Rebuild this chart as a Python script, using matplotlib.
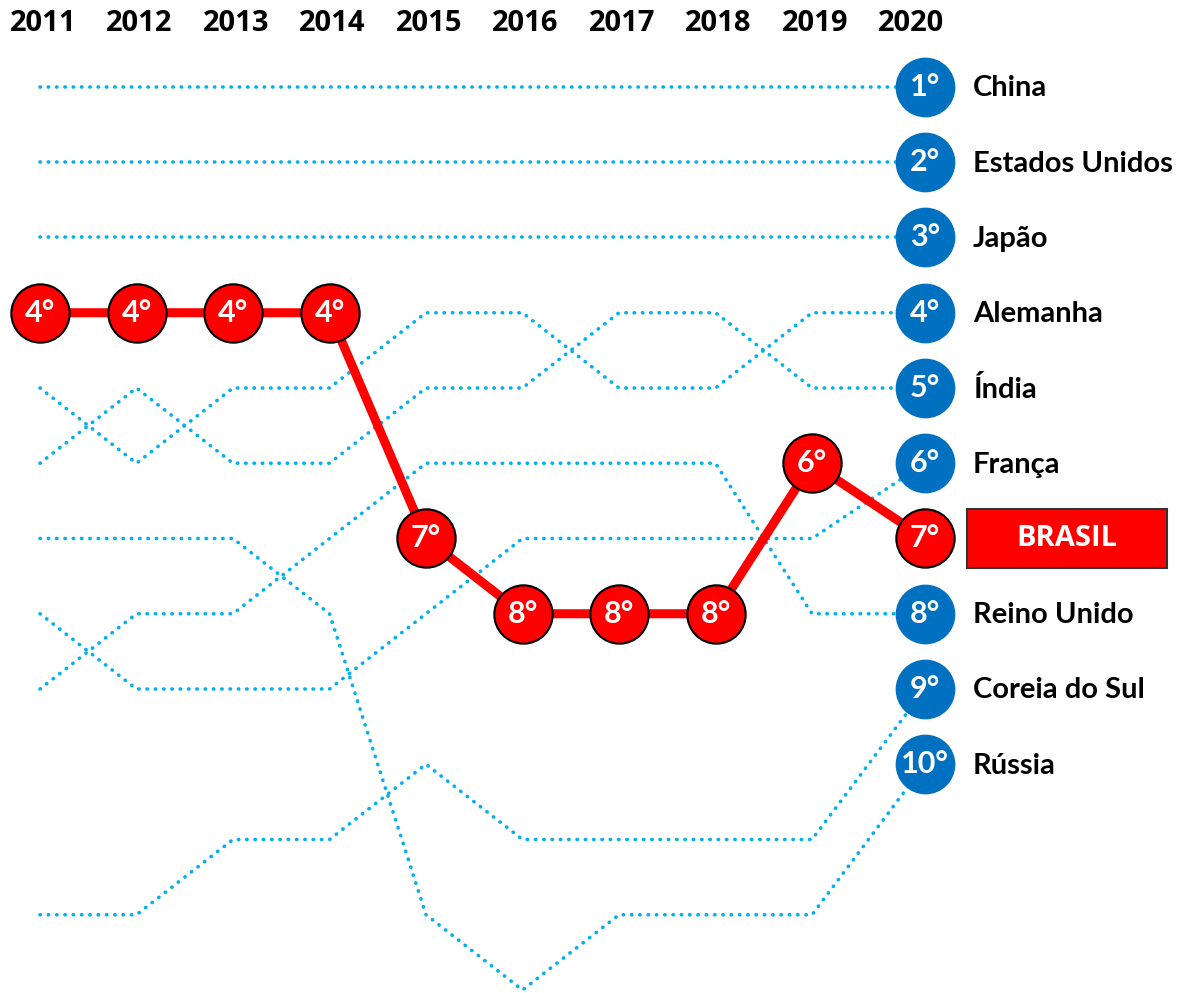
import matplotlib
matplotlib.use('Agg')
import matplotlib.pyplot as plt
import numpy as np
from matplotlib.patches import Rectangle

# ---- data ----
years = [2011, 2012, 2013, 2014, 2015, 2016, 2017, 2018, 2019, 2020]

rank_china = [1, 1, 1, 1, 1, 1, 1, 1, 1, 1]
rank_eua = [2, 2, 2, 2, 2, 2, 2, 2, 2, 2]
rank_japao = [3, 3, 3, 3, 3, 3, 3, 3, 3, 3]
rank_alemanha = [5, 6, 5, 5, 4, 4, 5, 5, 4, 4]
rank_india = [6, 5, 6, 6, 5, 5, 4, 4, 5, 5]
rank_franca = [8, 9, 9, 9, 8, 7, 7, 7, 7, 6]
rank_brasil = [4, 4, 4, 4, 7, 8, 8, 8, 6, 7]
rank_reino_unido = [9, 8, 8, 7, 6, 6, 6, 6, 8, 8]
rank_coreia = [12, 12, 11, 11, 10, 11, 11, 11, 11, 9]
rank_russia = [7, 7, 7, 8, 12, 13, 12, 12, 12, 10]

other_names = ["China", "Estados Unidos", "Japão", "Alemanha", "Índia",
               "França", "Reino Unido", "Coreia do Sul", "Rússia"]
other_ranks = [rank_china, rank_eua, rank_japao, rank_alemanha, rank_india,
               rank_franca, rank_reino_unido, rank_coreia, rank_russia]
highlight_name = "BRASIL"

# ---- style ----
DOT_BLUE = '#00B0F0'
CIRCLE_BLUE = '#0070C0'
RED = '#FF0000'
LABEL_FONT = 'Lato'
YEAR_FONT = 'Open Sans'

fig = plt.figure(figsize=(11.88, 9.93), dpi=100)
ax = fig.add_axes([0, 0, 1, 1])
ax.set_xlim(-0.4145, 11.896)
ax.set_ylim(13.04, -0.156)
ax.axis('off')

n = len(years)
x = np.arange(n, dtype=float)
x[-1] += 0.17  # final column sits slightly further right

# year labels
for i, yr in enumerate(years):
    ax.text(i + 0.03, 0.15, str(yr), ha='center', va='center', fontsize=21,
            fontweight='bold', family=YEAR_FONT, color='black')

# dotted lines for other countries
for ranks in other_ranks:
    ax.plot(x, ranks, color=DOT_BLUE, lw=2.6, linestyle=(0, (0.1, 2.2)),
            dash_capstyle='round', zorder=1)

# final blue circles + labels
circle_s = 42 ** 2
for name, ranks in zip(other_names, other_ranks):
    r = ranks[-1]
    ax.scatter([x[-1]], [r], s=circle_s, color=CIRCLE_BLUE, zorder=4,
               edgecolors=CIRCLE_BLUE, linewidths=1.0)
    ax.text(x[-1], r, f"{r}°", ha='center', va='center', fontsize=22,
            fontweight='bold', family=LABEL_FONT, color='white', zorder=5)
    ax.text(9.668, r + 0.02, name, ha='left', va='center', fontsize=21,
            fontweight='bold', family=LABEL_FONT, color='black', zorder=5)

# Brasil highlighted
ax.plot(x, rank_brasil, color=RED, lw=6.5, solid_capstyle='butt', zorder=2)
ax.scatter(x, rank_brasil, s=circle_s, color=RED, edgecolors='black',
           linewidths=1.5, zorder=3)
for xi, r in zip(x, rank_brasil):
    ax.text(xi, r, f"{r}°", ha='center', va='center', fontsize=22,
            fontweight='bold', family=LABEL_FONT, color='white', zorder=4)

rb = rank_brasil[-1]
box = Rectangle((9.606, rb - 0.39), 2.073, 0.78, facecolor=RED,
                edgecolor='#333333', linewidth=1.5, zorder=4)
ax.add_patch(box)
ax.text(9.606 + 2.073 / 2, rb, highlight_name, ha='center', va='center',
        fontsize=21, fontweight='bold', family=YEAR_FONT, color='white', zorder=5)

fig.savefig('out.png', dpi=100)
